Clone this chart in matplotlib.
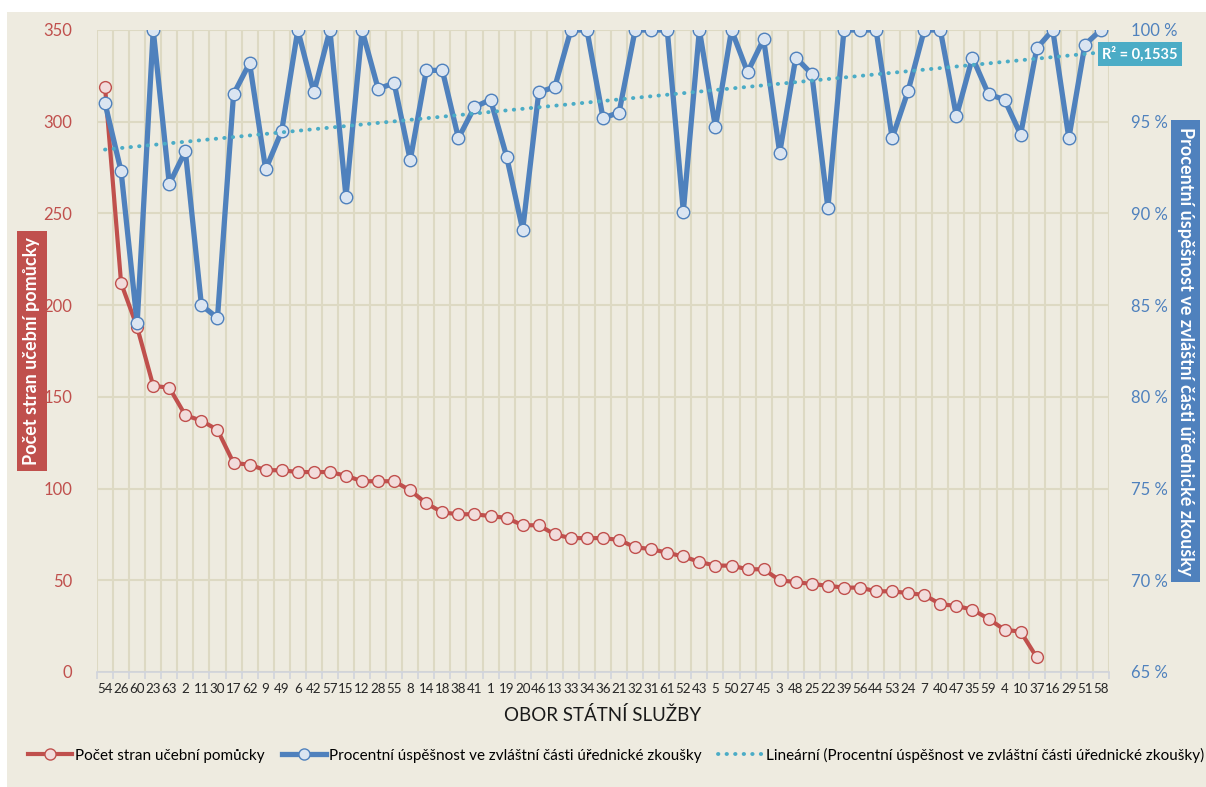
import matplotlib
matplotlib.use("Agg")
import matplotlib.pyplot as plt
from matplotlib.lines import Line2D
from matplotlib.patches import Rectangle
import numpy as np

plt.rcParams['font.family'] = ['Lato', 'DejaVu Sans']

# categories (obor státní služby)
obory = ["54", "26", "60", "23", "63", "2", "11", "30", "17", "62", "9", "49", "6", "42", "57",
         "15", "12", "28", "55", "8", "14", "18", "38", "41", "1", "19", "20", "46", "13", "33",
         "34", "36", "21", "32", "31", "61", "52", "43", "5", "50", "27", "45", "3", "48", "25",
         "22", "39", "56", "44", "53", "24", "7", "40", "47", "35", "59", "4", "10", "37", "16",
         "29", "51", "58"]

# počet stran učební pomůcky (last four obory have no value)
strany = [319, 212, 188, 156, 155, 140, 137, 132, 114, 113, 110, 110, 109, 109, 109,
          107, 104, 104, 104, 99, 92, 87, 86, 86, 85, 84, 80, 80, 75, 73,
          73, 73, 72, 68, 67, 65, 63, 60, 58, 58, 56, 56, 50, 49, 48,
          47, 46, 46, 44, 44, 43, 42, 37, 36, 34, 29, 23, 22, 8]

# procentní úspěšnost (%)
uspesnost = [96.0, 92.3, 84.0, 100, 91.6, 93.4, 85.0, 84.3, 96.5, 98.2, 92.4, 94.5, 100, 96.6, 100,
             90.9, 100, 96.8, 97.1, 92.9, 97.8, 97.8, 94.1, 95.8, 96.2, 93.1, 89.1, 96.6, 96.9, 100,
             100, 95.2, 95.5, 100, 100, 100, 90.1, 100, 94.7, 100, 97.7, 99.5, 93.3, 98.5, 97.6,
             90.3, 100, 100, 100, 94.1, 96.7, 100, 100, 95.3, 98.5, 96.5, 96.2, 94.3, 99.0, 100,
             94.1, 99.2, 100]

R2_TEXT = "R² = 0,1535"

RED = "#c0504d"
BLUE = "#4f81bd"
TEAL = "#4bacc6"
BG = "#eeebe0"
GRID = "#ddd9c3"
DOTS = (0, (0.1, 2.1))

fig = plt.figure(figsize=(12.06, 7.87), dpi=100)
fig.patch.set_facecolor("white")
fig.patches.append(Rectangle((7 / 1206, 0), 1, 1 - 12 / 787, transform=fig.transFigure,
                             facecolor=BG, edgecolor="none", zorder=-10))

ax = fig.add_axes([97 / 1206, 1 - 672 / 787, (1109 - 97) / 1206, (672 - 30) / 787])
ax.set_facecolor(BG)
ax2 = ax.twinx()

x = np.arange(len(obory))
ax.plot(np.arange(len(strany)), strany, color=RED, lw=3, marker="o", ms=8.5,
        mfc="#f2dcdb", mec=RED, mew=1.0, zorder=3)
ax2.plot(x, uspesnost, color=BLUE, lw=3.8, marker="o", ms=9,
         mfc="#dbe5f1", mec=BLUE, mew=1.0, zorder=3)

# linear trend of the success rate
k, q = np.polyfit(x, uspesnost, 1)
ax2.plot(x, k * x + q, color=TEAL, lw=2.8, ls=DOTS, zorder=4, dash_capstyle="round")

ax.set_xlim(-0.5, len(obory) - 0.5)
ax.set_ylim(0, 350)
ax2.set_ylim(65, 100)
ax.set_yticks(range(0, 351, 50))
ax2.set_yticks(range(65, 101, 5))
ax2.set_yticklabels([f"{v} %" for v in range(65, 101, 5)])

ax.set_xticks(x)
ax.set_xticklabels(obory, fontsize=9.6, color="#262626")
ax.set_xticks(np.arange(-0.5, len(obory)), minor=True)
ax.tick_params(axis="x", which="major", length=0, pad=8)
ax.tick_params(axis="x", which="minor", length=5, color="#d0d4dc", width=1.2)
ax.tick_params(axis="y", length=0, labelsize=12, labelcolor=RED, pad=18)
ax2.tick_params(axis="y", length=0, labelsize=12, labelcolor=BLUE, pad=16)

ax.grid(True, axis="y", color=GRID, lw=1.5)
ax.grid(True, axis="x", which="minor", color=GRID, lw=1.5)
ax.set_axisbelow(True)
for a in (ax, ax2):
    for s in a.spines.values():
        s.set_visible(False)
ax.spines["bottom"].set_visible(True)
ax.spines["bottom"].set_color("#d0d4dc")
ax.spines["bottom"].set_linewidth(1.2)

ax.set_xlabel("OBOR STÁTNÍ SLUŽBY", fontsize=13.5, color="#1a1a1a", labelpad=8)

fig.text(32 / 1206, 1 - 351 / 787, "Počet stran učební pomůcky", rotation=90, ha="center",
         va="center", color="white", fontsize=13, fontweight="bold",
         bbox=dict(boxstyle="square,pad=0.35", fc=RED, ec="none"))
fig.text(1185.5 / 1206, 1 - 351 / 787, "Procentní úspěšnost ve zvláštní části úřednické zkoušky",
         rotation=270, ha="center", va="center", color="white", fontsize=13, fontweight="bold",
         bbox=dict(boxstyle="square,pad=0.35", fc=BLUE, ec="none"))
fig.text(1140 / 1206, 1 - 54 / 787, R2_TEXT, ha="center",
         va="center", color="white", fontsize=10.5, fontweight="bold",
         bbox=dict(boxstyle="square,pad=0.3", fc=TEAL, ec="none"))

handles = [
    Line2D([], [], color=RED, lw=3, marker="o", ms=8, mfc="#f2dcdb", mec=RED),
    Line2D([], [], color=BLUE, lw=3.8, marker="o", ms=8, mfc="#dbe5f1", mec=BLUE),
    Line2D([], [], color=TEAL, lw=2.8, ls=DOTS, dash_capstyle="round"),
]
labels = ["Počet stran učební pomůcky",
          "Procentní úspěšnost ve zvláštní části úřednické zkoušky",
          "Lineární (Procentní úspěšnost ve zvláštní části úřednické zkoušky)"]
fig.legend(handles, labels, loc="center", bbox_to_anchor=(616 / 1206, 1 - 755 / 787), ncol=3,
           frameon=False, fontsize=11, handlelength=2.9, columnspacing=1.1, handletextpad=0.2)

fig.savefig("out.png", dpi=100, facecolor=fig.get_facecolor())
